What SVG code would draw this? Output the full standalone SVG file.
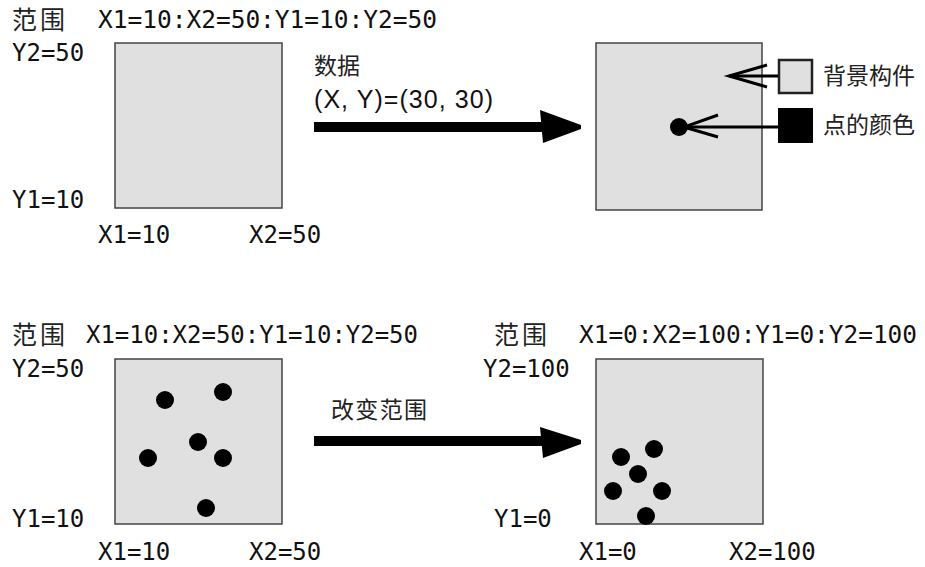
<svg xmlns="http://www.w3.org/2000/svg" width="925" height="567" viewBox="0 0 925 567">
<style>
.t{font-family:"DejaVu Sans Mono","Liberation Mono",monospace;font-size:24px;fill:#111}
.c{font-family:"Noto Sans CJK SC","Noto Sans CJK JP",sans-serif;font-size:23px;fill:#222}
.r{font-size:25px}
.box{fill:#e0e0e0;stroke:#444;stroke-width:1.5}
.dot{fill:#000}
.ln{stroke:#000;stroke-width:3;fill:none}
.shaft{fill:#000}
</style>
<rect width="925" height="567" fill="#fff"/>

<g id="panel-top-left">
<text class="c r" x="12" y="29" textLength="53" lengthAdjust="spacing">范围</text>
<text class="t" x="98" y="28" textLength="339" lengthAdjust="spacingAndGlyphs">X1=10:X2=50:Y1=10:Y2=50</text>
<text class="t" x="12" y="61">Y2=50</text>
<rect class="box" x="115" y="43" width="167" height="165"/>
<text class="t" x="12" y="208">Y1=10</text>
<text class="t" x="98" y="243">X1=10</text>
<text class="t" x="249" y="243">X2=50</text>
</g>

<g id="label-data">
<text class="c" x="314" y="74" font-size="27">数据</text>
<text x="314" y="108" font-family="Liberation Sans, Arial, sans-serif" font-size="25" fill="#111" textLength="179" lengthAdjust="spacing">(X, Y)=(30, 30)</text>
</g>

<g id="panel-top-right">
<rect class="box" x="596" y="43" width="166" height="167"/>
<circle class="dot" cx="679" cy="127" r="9"/>
</g>

<g id="legend-background">
<rect x="779" y="60" width="33" height="33" fill="#e0e0e0" stroke="#222" stroke-width="2.5"/>
<text class="c" x="823" y="84" font-size="22">背景构件</text>
</g>

<g id="legend-dot">
<rect x="778" y="108" width="35" height="35" fill="#000"/>
<text class="c" x="823" y="133" font-size="22">点的颜色</text>
</g>

<g id="panel-bottom-left">
<text class="c r" x="12" y="344" textLength="53" lengthAdjust="spacing">范围</text>
<text class="t" x="86" y="343" textLength="332" lengthAdjust="spacingAndGlyphs">X1=10:X2=50:Y1=10:Y2=50</text>
<text class="t" x="12" y="377">Y2=50</text>
<rect class="box" x="115" y="359" width="167" height="165"/>
<circle class="dot" cx="165" cy="400" r="9"/>
<circle class="dot" cx="223" cy="392" r="9"/>
<circle class="dot" cx="198" cy="442" r="9"/>
<circle class="dot" cx="148" cy="458" r="9"/>
<circle class="dot" cx="223" cy="458" r="9"/>
<circle class="dot" cx="206" cy="508" r="9"/>
<text class="t" x="12" y="527">Y1=10</text>
<text class="t" x="98" y="560">X1=10</text>
<text class="t" x="249" y="560">X2=50</text>
</g>

<g id="label-change">
<text class="c" x="331" y="418" font-size="24" textLength="96" lengthAdjust="spacing">改变范围</text>
</g>

<g id="panel-bottom-right">
<text class="c r" x="494" y="344" textLength="53" lengthAdjust="spacing">范围</text>
<text class="t" x="579" y="343" textLength="338" lengthAdjust="spacingAndGlyphs">X1=0:X2=100:Y1=0:Y2=100</text>
<text class="t" x="483" y="377">Y2=100</text>
<rect class="box" x="596" y="359" width="167" height="165"/>
<circle class="dot" cx="621" cy="457" r="9"/>
<circle class="dot" cx="654" cy="449" r="9"/>
<circle class="dot" cx="638" cy="474" r="9"/>
<circle class="dot" cx="613" cy="491" r="9"/>
<circle class="dot" cx="662" cy="491" r="9"/>
<circle class="dot" cx="646" cy="516" r="9"/>
<text class="t" x="494" y="527">Y1=0</text>
<text class="t" x="579" y="560">X1=0</text>
<text class="t" x="729" y="560">X2=100</text>
</g>

<g id="connectors">
<rect class="shaft" x="314" y="122" width="230" height="10"/>
<polygon class="shaft" points="540,110 581,125 581,129 543,143"/>
<rect class="shaft" x="314" y="436" width="230" height="10"/>
<polygon class="shaft" points="540,427 581,440 581,444 543,458"/>
<line class="ln" x1="729" y1="76" x2="778" y2="76"/>
<polyline class="ln" points="767,65 729,76 767,87"/>
<line class="ln" x1="682" y1="127" x2="778" y2="127"/>
<polyline class="ln" points="718,115 684,127 718,137"/>
</g>
</svg>
